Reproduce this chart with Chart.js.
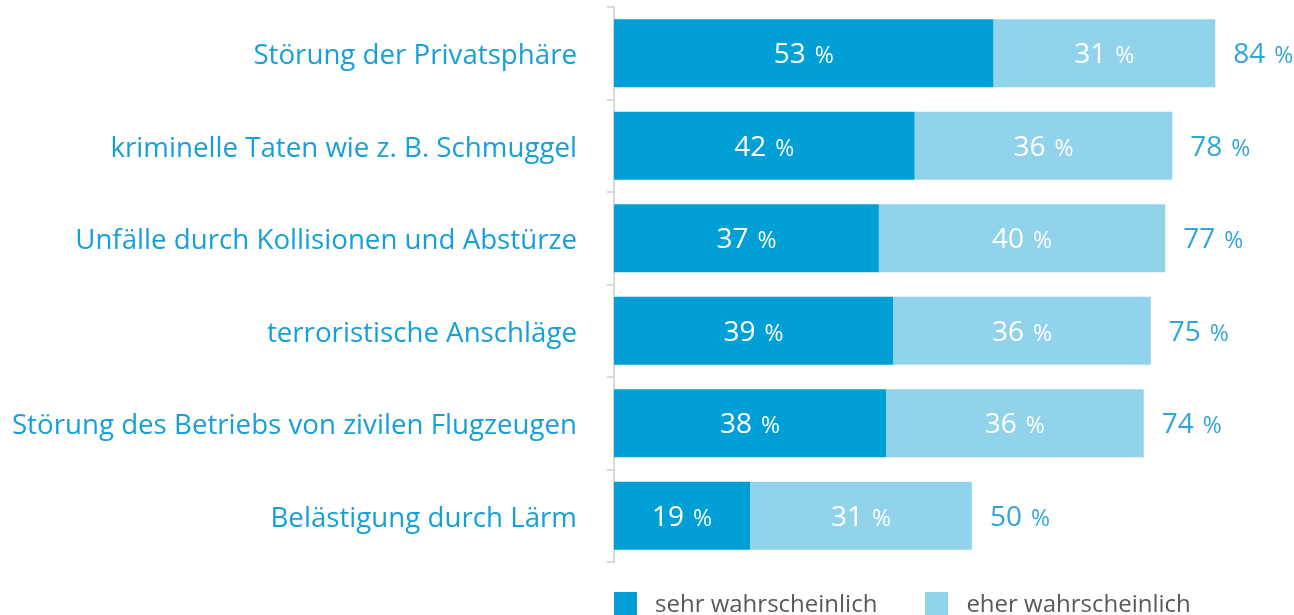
<!DOCTYPE html>
<html lang="de">
<head>
<meta charset="utf-8">
<title>Risiken durch Drohnen</title>
<script src="https://cdn.jsdelivr.net/npm/chart.js@4.4.1/dist/chart.umd.min.js"></script>
<style>
    html, body { margin: 0; padding: 0; background: #ffffff; }
    #wrap { position: relative; width: 1294px; height: 615px; overflow: hidden; }
    #legend { position: absolute; top: 592px; left: 614px; display: flex; font-family: 'Open Sans', sans-serif; font-size: 24px; color: #595959; }
    .legend-item { display: flex; align-items: flex-start; }
    .legend-box { width: 23px; height: 23px; margin-right: 18px; }
    .legend-text { line-height: 23px; margin-top: -1px; }
</style>
</head>
<body>
<div id="wrap">
    <canvas id="chart" width="1294" height="615"></canvas>
    <div id="legend"></div>
</div>
<script>
const categories = [
    'Störung der Privatsphäre',
    'kriminelle Taten wie z. B. Schmuggel',
    'Unfälle durch Kollisionen und Abstürze',
    'terroristische Anschläge',
    'Störung des Betriebs von zivilen Flugzeugen',
    'Belästigung durch Lärm'
];
const sehrWahrscheinlich = [53, 42, 37, 39, 38, 19];
const eherWahrscheinlich = [31, 36, 40, 36, 36, 31];
const gesamt = [84, 78, 77, 75, 74, 50];
const seriesNames = ['sehr wahrscheinlich', 'eher wahrscheinlich'];

const DARK = '#009fd6';
const LIGHT = '#92d3ec';
const TEXT_BLUE = '#16a0d8';
const TOTAL_BLUE = '#2fa6db';
const FONT = "'Open Sans', sans-serif";

// number in the larger size, the percent sign a bit smaller, digits centred on cy
function drawPercent(ctx, value, cx, cy, color, align) {
    const num = String(value);
    ctx.font = '28px ' + FONT;
    const wNum = ctx.measureText(num).width;
    ctx.font = '23px ' + FONT;
    const wPct = ctx.measureText(' %').width;
    const gap = 3;
    const total = wNum + gap + wPct;
    const x = align === 'left' ? cx : cx - total / 2;
    const baseline = cy + 10;
    ctx.fillStyle = color;
    ctx.textBaseline = 'alphabetic';
    ctx.textAlign = 'left';
    ctx.font = '28px ' + FONT;
    ctx.fillText(num, x, baseline);
    ctx.font = '23px ' + FONT;
    ctx.fillText(' %', x + wNum + gap, baseline);
}

const barLabels = {
    id: 'barLabels',
    afterDatasetsDraw(chart) {
        const ctx = chart.ctx;
        ctx.save();
        chart.data.datasets.forEach((ds, i) => {
            chart.getDatasetMeta(i).data.forEach((bar, j) => {
                drawPercent(ctx, ds.data[j], (bar.x + bar.base) / 2, bar.y, '#ffffff');
            });
        });
        // totals to the right of each bar
        const xs = chart.scales.x;
        const meta = chart.getDatasetMeta(0);
        gesamt.forEach((v, j) => {
            drawPercent(ctx, v, xs.getPixelForValue(v) + 18, meta.data[j].y, TOTAL_BLUE, 'left');
        });
        ctx.restore();
    }
};

new Chart(document.getElementById('chart'), {
    type: 'bar',
    data: {
        labels: categories,
        datasets: [
            { label: seriesNames[0], data: sehrWahrscheinlich, backgroundColor: DARK },
            { label: seriesNames[1], data: eherWahrscheinlich, backgroundColor: LIGHT }
        ]
    },
    options: {
        indexAxis: 'y',
        responsive: false,
        animation: false,
        layout: { padding: { top: 7, bottom: 53, left: 0, right: 0 } },
        datasets: { bar: { categoryPercentage: 1, barPercentage: 0.735 } },
        plugins: { legend: { display: false }, tooltip: { enabled: false } },
        scales: {
            x: { stacked: true, min: 0, max: 95, display: false },
            y: {
                stacked: true,
                offset: true,
                grid: { offset: true, drawOnChartArea: false, tickLength: 7, color: '#d9d9d9', lineWidth: 2 },
                border: { color: '#d9d9d9', width: 2 },
                ticks: { color: TEXT_BLUE, padding: 30, labelOffset: 3, font: { family: 'Open Sans', size: 27.7 } },
                afterFit(scale) {
                    scale.width = 614;
                    scale.paddingTop = 0;
                    scale.paddingBottom = 0;
                }
            }
        }
    },
    plugins: [barLabels]
});

// legend under the plot
const legend = document.getElementById('legend');
[DARK, LIGHT].forEach((c, i) => {
    const item = document.createElement('div');
    item.className = 'legend-item';
    item.style.marginRight = i === 0 ? '48px' : '0';
    item.innerHTML = `<div class="legend-box" style="background:${c}"></div><div class="legend-text">${seriesNames[i]}</div>`;
    legend.appendChild(item);
});
</script>
</body>
</html>
